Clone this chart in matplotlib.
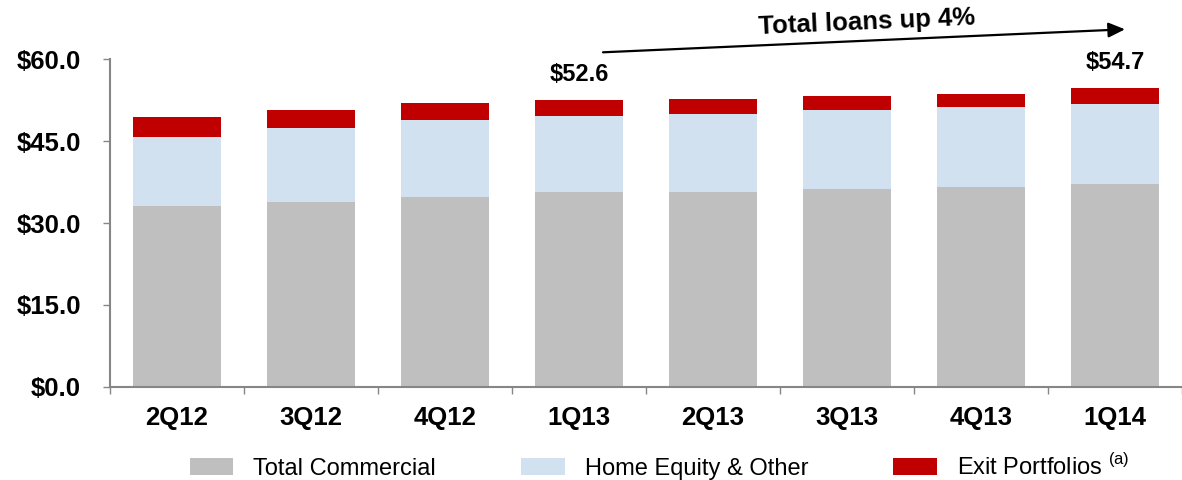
import numpy as np
import matplotlib.pyplot as plt
from matplotlib.ticker import FuncFormatter

plt.rcParams['font.family'] = ['Liberation Sans', 'DejaVu Sans']
plt.rcParams['mathtext.fontset'] = 'custom'
plt.rcParams['mathtext.rm'] = 'Liberation Sans'

# loans, $ billions
quarters = ['2Q12', '3Q12', '4Q12', '1Q13', '2Q13', '3Q13', '4Q13', '1Q14']
total_commercial = [33.2, 33.8, 34.8, 35.7, 35.6, 36.2, 36.6, 37.2]
home_equity_other = [12.5, 13.6, 14.1, 14.0, 14.4, 14.6, 14.7, 14.6]
exit_portfolios = [3.7, 3.3, 3.0, 2.9, 2.7, 2.5, 2.3, 2.9]
labelled = ['1Q13', '1Q14']
y_ticks = [0, 15, 30, 45, 60]

gray = '#BFBFBF'
light_blue = '#D2E1F0'
red = '#C00000'
axis_gray = '#868686'

tc = np.array(total_commercial)
he = np.array(home_equity_other)
ex = np.array(exit_portfolios)
totals = tc + he + ex
x = np.arange(len(quarters))
width = 0.664

fig = plt.figure(figsize=(11.82, 4.8), dpi=100)
ax = fig.add_axes([110 / 1182, 93.3 / 480, 1072 / 1182, 327.4 / 480])

ax.bar(x, tc, width, color=gray, label='Total Commercial')
ax.bar(x, he, width, bottom=tc, color=light_blue, label='Home Equity & Other')
ax.bar(x, ex, width, bottom=tc + he, color=red, label=r'Exit Portfolios $^{\mathrm{(a)}}$')

# total labels on first and last quarter of the year-over-year comparison
for q in labelled:
    i = quarters.index(q)
    ax.annotate(f'${totals[i]:.1f}', (x[i], totals[i]), xytext=(0, 10),
                textcoords='offset points', ha='center', va='bottom',
                fontsize=17, fontweight='bold')

ax.set_ylim(0, 60)
ax.set_xlim(-0.5, 7.413)
ax.set_yticks(y_ticks)
ax.yaxis.set_major_formatter(FuncFormatter(lambda v, p: f'${v:.1f}'))

# ticks between the bars, labels under the bars
ax.set_xticks(np.arange(-0.5, len(quarters), 1.0))
ax.set_xticklabels([])
ax.set_xticks(x, minor=True)
ax.set_xticklabels(quarters, minor=True)
ax.tick_params(axis='x', which='major', length=5, width=1, color=axis_gray)
ax.tick_params(axis='x', which='minor', length=0, pad=14, labelsize=18.5)
ax.tick_params(axis='y', length=5, width=1, color=axis_gray, pad=16, labelsize=18.5)
for lbl in ax.get_xticklabels(minor=True) + ax.get_yticklabels():
    lbl.set_fontweight('bold')

for s in ['top', 'right']:
    ax.spines[s].set_visible(False)
for s in ['left', 'bottom']:
    ax.spines[s].set_color(axis_gray)
    ax.spines[s].set_linewidth(1.5)

# growth arrow
fig.add_artist(plt.Line2D([0], [0], visible=False))
ax.annotate('', xy=(1125 / 1182, 1 - 29.3 / 480), xycoords='figure fraction',
            xytext=(603 / 1182, 1 - 52.3 / 480), textcoords='figure fraction',
            arrowprops=dict(arrowstyle='-|>,head_length=1.0,head_width=0.45',
                            color='black', lw=1.6, shrinkA=0, shrinkB=0))
fig.text(867 / 1182, 1 - 22 / 480, 'Total loans up 4%', ha='center', va='center',
         rotation=2.5, fontsize=18.5, fontweight='bold')

fig.legend(loc='center', bbox_to_anchor=(0.558, 0.027), ncol=3, frameon=False,
           fontsize=17, handlelength=1.85, handleheight=0.72, handletextpad=0.85,
           columnspacing=3.6)

fig.savefig('out.png', dpi=100)
